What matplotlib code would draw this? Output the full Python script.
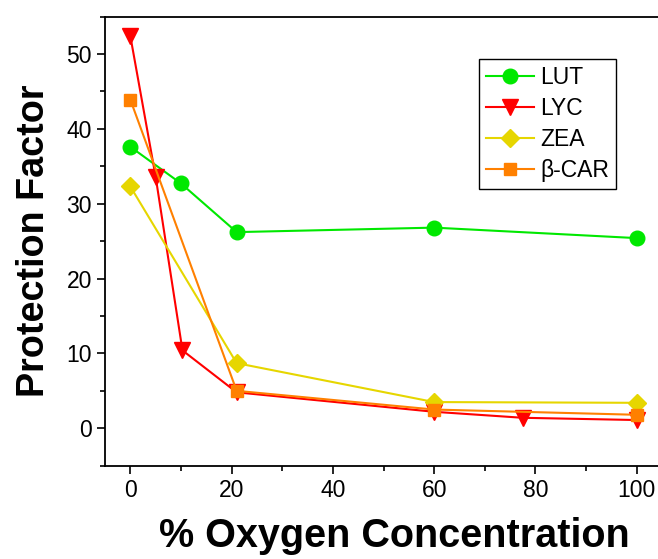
import matplotlib
matplotlib.use('Agg')
import matplotlib.pyplot as plt
from matplotlib.ticker import MultipleLocator

plt.rcParams['font.family'] = ['Liberation Sans', 'DejaVu Sans']

# data
lut_x = [0, 10, 21, 60, 100]
lut_y = [37.6, 32.7, 26.2, 26.8, 25.4]

lyc_x = [0, 5, 10.3, 21, 60, 77.5, 100]
lyc_y = [52.4, 33.6, 10.4, 4.8, 2.2, 1.4, 1.1]

zea_x = [0, 21, 60, 100]
zea_y = [32.3, 8.7, 3.5, 3.4]

bcar_x = [0, 21, 60, 100]
bcar_y = [43.9, 5.0, 2.5, 1.8]

x_ticks = [0, 20, 40, 60, 80, 100]
y_ticks = [0, 10, 20, 30, 40, 50]

fig = plt.figure(figsize=(6.58, 5.59), dpi=100)
ax = fig.add_axes([105 / 658, 1 - 465.7 / 559, 557 / 658, 449.2 / 559])

ax.plot(lut_x, lut_y, color='#00e800', marker='o', ms=10.5, lw=1.5, label='LUT')
ax.plot(lyc_x, lyc_y, color='#ff0000', marker='v', ms=11, lw=1.5, label='LYC')
ax.plot(zea_x, zea_y, color='#e6d600', marker='D', ms=9, lw=1.5, label='ZEA')
ax.plot(bcar_x, bcar_y, color='#ff8000', marker='s', ms=9, lw=1.5, label='β-CAR')

ax.set_xlim(-5, 105)
ax.set_ylim(-5, 55)
ax.set_xticks(x_ticks)
ax.set_yticks(y_ticks)
ax.xaxis.set_minor_locator(MultipleLocator(10))
ax.yaxis.set_minor_locator(MultipleLocator(5))
ax.tick_params(which='major', direction='out', length=6, width=1.2, labelsize=16.5)
ax.tick_params(which='minor', direction='out', length=3.5, width=1.2)
for s in ax.spines.values():
    s.set_linewidth(1.3)

ax.set_xlabel('% Oxygen Concentration', fontsize=28.5, fontweight='bold')
ax.set_ylabel('Protection Factor', fontsize=27.2, fontweight='bold', labelpad=10)
ax.xaxis.set_label_coords((394 - 105) / 557, -0.115)

leg = ax.legend(loc='upper right', bbox_to_anchor=(0.917, 0.905), borderaxespad=0,
                fontsize=16.5, handlelength=2.1, fancybox=False, edgecolor='black',
                framealpha=1, labelspacing=0.35, handletextpad=0.25, borderpad=0.3)
leg.get_frame().set_linewidth(1.0)

fig.savefig('out.png', dpi=100)
